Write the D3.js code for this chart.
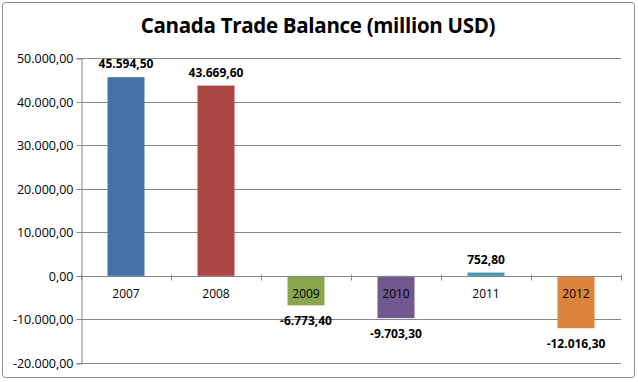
<!DOCTYPE html>
<html><head><meta charset="utf-8">
<script src="https://cdn.jsdelivr.net/npm/d3@7/dist/d3.min.js"></script>
<style>
html,body{margin:0;padding:0;background:#fff;}
svg{display:block;font-family:"Open Sans","Liberation Sans",sans-serif;}
</style></head>
<body>
<svg id="chart" width="638" height="382"></svg>
<script>
const categories = ["2007","2008","2009","2010","2011","2012"];
const values = [45594.5, 43669.6, -6773.4, -9703.3, 752.8, -12016.3];
const colors = ["#4572A7","#AA4643","#89A54E","#71588F","#4198AF","#DB843D"];
const yTicks = [-20000,-10000,0,10000,20000,30000,40000,50000];
const title = "Canada Trade Balance (million USD)";

const fmt = v => {
  const s = d3.format(",.2f")(v);
  return s.replace(/,/g,"#").replace(/\./g,",").replace(/#/g,".").replace("−","-");
};

const svg = d3.select("#chart");
const plot = {left:81, right:621, top:58, bottom:363};

svg.append("rect").attr("x",2.5).attr("y",2.5).attr("width",632).attr("height",375)
  .attr("rx",3).attr("fill","#fff").attr("stroke","#8c8c8c").attr("stroke-width",1);

svg.append("text").attr("x",318).attr("y",33).attr("text-anchor","middle")
  .attr("font-family","Open Sans, sans-serif").attr("letter-spacing",-0.3)
  .attr("font-weight","bold").attr("font-size",20.5).attr("fill","#000").text(title);

const x = d3.scaleBand().domain(categories).range([plot.left, plot.right]).paddingInner(0).paddingOuter(0);
const y = d3.scaleLinear().domain([-20000,50000]).range([plot.bottom, plot.top]);

// gridlines
svg.append("g").selectAll("line").data(yTicks).join("line")
  .attr("x1",plot.left).attr("x2",plot.right)
  .attr("y1",d=>Math.round(y(d))+0.5).attr("y2",d=>Math.round(y(d))+0.5)
  .attr("stroke","#868686").attr("stroke-width",1);

// y axis
const yAxis = d3.axisLeft(y).tickValues(yTicks).tickSize(5).tickPadding(3).tickFormat(fmt);
const gy = svg.append("g").attr("transform",`translate(${plot.left+0.5},0.5)`).call(yAxis);
gy.select(".domain").attr("stroke","#868686");
gy.selectAll(".tick line").attr("stroke","#868686");
gy.selectAll(".tick text").attr("font-size",12.5).attr("fill","#000").attr("font-family","Open Sans, sans-serif");
gy.selectAll(".tick").attr("transform",d=>`translate(0,${Math.round(y(d))})`);

// bars
const bw = 37;
svg.append("g").selectAll("rect").data(values).join("rect")
  .attr("x",(d,i)=>x(categories[i]) + x.bandwidth()/2 - bw/2)
  .attr("width",bw)
  .attr("y",d=>y(Math.max(0,d)))
  .attr("height",d=>Math.abs(y(d)-y(0)))
  .attr("fill",(d,i)=>colors[i]);

// category axis at zero
const y0 = Math.round(y(0))+0.5;
svg.append("line").attr("x1",plot.left).attr("x2",plot.right).attr("y1",y0).attr("y2",y0)
  .attr("stroke","#868686");
const bounds = categories.map(c=>x(c)).concat([plot.right]);
svg.append("g").selectAll("line").data(bounds).join("line")
  .attr("x1",d=>Math.round(d)+0.5).attr("x2",d=>Math.round(d)+0.5)
  .attr("y1",y0-2).attr("y2",y0+4).attr("stroke","#868686");

svg.append("g").selectAll("text").data(categories).join("text")
  .attr("x",c=>x(c)+x.bandwidth()/2).attr("y",y0+21)
  .attr("text-anchor","middle").attr("font-size",12).attr("fill","#000")
  .attr("font-family","Open Sans, sans-serif")
  .text(c=>c);

// data labels
svg.append("g").selectAll("text").data(values).join("text")
  .attr("x",(d,i)=>x(categories[i])+x.bandwidth()/2)
  .attr("y",d=> d>=0 ? y(d)-9 : y(d)+20)
  .attr("text-anchor","middle").attr("font-size",12).attr("font-weight","bold").attr("fill","#000")
  .attr("font-family","Open Sans, sans-serif")
  .text(d=>fmt(d));
</script>
</body></html>
